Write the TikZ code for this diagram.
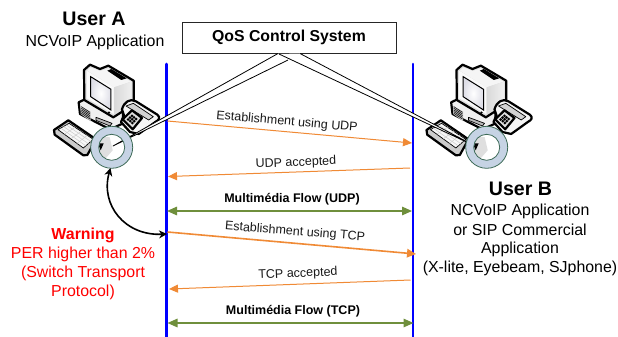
\documentclass[tikz,border=0pt]{standalone}
\usepackage{fontspec}
\setmainfont{Liberation Sans}
\usetikzlibrary{arrows.meta,calc}
\definecolor{orangeflow}{HTML}{F08A35}
\definecolor{greenflow}{HTML}{6F8F3C}
\definecolor{lifeblue}{HTML}{0000FF}
\definecolor{ringfill}{HTML}{C6D3E4}
\definecolor{ringedge}{HTML}{3E6B58}
\tikzset{
  lifeline/.style={draw=lifeblue,line width=2.6pt,line cap=round},
  msg/.style={draw=orangeflow,line width=1pt,-{Triangle[length=9pt,width=8pt]}},
  msgbold/.style={draw=orangeflow,line width=1.6pt,-{Triangle[length=9pt,width=8.5pt]}},
  flow/.style={draw=greenflow,line width=1.5pt,{Triangle[length=10pt,width=8.5pt]}-{Triangle[length=10pt,width=8.5pt]}},
  lbl/.style={font=\fontsize{12.5}{14}\selectfont,inner sep=0pt,text=black!90},
  flowlbl/.style={font=\bfseries\fontsize{12.5}{14}\selectfont,inner sep=0pt},
  body/.style={font=\fontsize{15.9}{19}\selectfont,inner sep=0pt,align=center},
  head/.style={font=\bfseries\fontsize{19.6}{22}\selectfont,inner sep=0pt},
  pcline/.style={draw=black,line width=2.2pt,line join=round},
  pcthin/.style={draw=black,line width=.7pt,line join=round},
  wedge/.style={draw=black,line width=.8pt,fill=white,line join=round},
  ringband/.style={fill=ringfill,draw=ringedge,line width=.8pt,even odd rule},
}
\newcommand{\pccomputer}[2]{%
\begin{scope}[shift={(#1,#2)},x=.3333pt,y=-.3333pt]
  % keyboard
  \path[pcline,fill=gray!40] (12,210) -- (55,181) -- (138,238) -- (112,285) -- (100,286) -- (14,224) -- cycle;
  \path[pcthin,fill=gray!6] (24,209) -- (57,190) -- (130,238) -- (100,264) -- cycle;
  \foreach \t in {.25,.5,.75}{
    \draw[gray!40,line width=.5pt] ($(24,209)!\t!(100,264)$) -- ($(57,190)!\t!(130,238)$);
    \draw[gray!40,line width=.5pt] ($(24,209)!\t!(57,190)$) -- ($(100,264)!\t!(130,238)$);
  }
  % base
  \path[pcline,fill=gray!12] (86,127) -- (115,113) -- (218,150) -- (220,190) -- (180,208) -- (90,162) -- cycle;
  \path[fill=gray!50] (92,138) -- (122,155) -- (122,184) -- (92,162) -- cycle;
  \foreach \s in {0,5,10,15,20}{\draw[black,line width=.5pt] (94,{140+\s}) -- (120,{157+\s});}
  \path[pcthin,fill=gray!55] (138,172) -- (186,190) -- (180,198) -- (138,181) -- cycle;
  % monitor
  \path[pcline,fill=gray!25] (102,30) -- (120,14) -- (150,27) -- (175,17) -- (251,62) -- (251,133) -- (190,172) -- (103,120) -- cycle;
  \path[fill=gray!8] (112,32) -- (122,22) -- (150,33) -- (176,25) -- (243,65) -- (192,82) -- cycle;
  \path[fill=black] (172,32) -- (184,27) -- (230,55) -- (214,60) -- cycle;
  \path[fill=gray!4] (110,32) -- (192,82) -- (192,163) -- (110,115) -- cycle;
  \path[left color=gray!30,right color=gray!12] (192,82) -- (245,65) -- (245,130) -- (192,163) -- cycle;
  \path[draw=black,line width=1pt,inner color=white,outer color=blue!16!gray!22] (122,50) -- (183,88) -- (183,150) -- (122,110) -- cycle;
  \fill[black] (177,158) circle (4);
  % phone
  \path[pcline,fill=gray!8] (216,148) .. controls (222,126) and (240,114) .. (258,124) -- (322,164) .. controls (332,172) and (328,180) .. (316,186) -- (266,222) -- (240,216) -- (213,186) -- (222,166) -- cycle;
  \path[pcthin,fill=gray!35] (228,138) -- (250,130) -- (310,170) -- (296,180) -- cycle;
  \path[pcline,fill=gray!25] (218,178) -- (246,151) -- (276,174) -- (248,208) -- cycle;
  \foreach \a in {.2,.5,.8}\foreach \b in {.2,.5,.8}{
    \fill[black] ($($(226,178)!\a!(246,161)$)!\b!($(248,197)!\a!(266,176)$)$) circle (4.5);
  }
\end{scope}}
\newcommand{\ringhole}[2]{%
  \fill[white] (#1,#2) circle (13);
  \begin{scope}
    \clip (#1,#2) circle (13);
    \fill[gray!25] ({#1-14},{#2-12}) -- ({#1-2},{#2-10}) -- ({#1+1},{#2+3}) -- ({#1-6},{#2+11}) -- ({#1-14},{#2+12}) -- cycle;
    \fill[black] ({#1-14},{#2-4}) -- ({#1-8},{#2-4}) -- ({#1-11},{#2+3}) -- cycle;
  \end{scope}}
\begin{document}
\begin{tikzpicture}[x=1pt,y=-1pt]
\useasboundingbox (0,0) rectangle (618,337);
\fill[white] (0,0) rectangle (618,337);

% named points
\coordinate (alTop) at (166.5,64); \coordinate (alBot) at (166.5,337);
\coordinate (blTop) at (413,64);   \coordinate (blBot) at (413,337);
\coordinate (ringA) at (111.7,147.3);
\coordinate (ringB) at (486.7,147.3);
\coordinate (tipA) at (113,146);
\coordinate (tipB) at (475,146);

\pccomputer{50}{60}
\pccomputer{422.5}{60}
\ringhole{111.7}{147.3}
\ringhole{486.7}{147.3}

% lifelines
\draw[lifeline] (alTop) -- (alBot);
\draw[lifeline] (blTop) -- (blBot);

% QoS box
\node[draw=black!85,line width=.9pt,fill=white,minimum width=214pt,minimum height=31pt,inner sep=0pt,
      font=\bfseries\fontsize{15.8}{18}\selectfont] (qos) at (289,37.5) {QoS Control System};

% links from the QoS box
\coordinate (qa1) at (278,53.5); \coordinate (qa2) at (288,60);
\coordinate (qb1) at (279,54);   \coordinate (qb2) at (300,53.5);
\path[wedge] (qa1) -- (tipA) -- (qa2);
\path[wedge] (qb1) -- (tipB) -- (qb2);

% rings over the links
\path[ringband] (ringA) circle (21) (ringA) circle (13);
\path[ringband] (ringB) circle (21) (ringB) circle (13);

% messages
\coordinate (m1a) at (167.5,121); \coordinate (m1b) at (412,143);
\coordinate (m2a) at (410,168);   \coordinate (m2b) at (168,176.5);
\coordinate (m3a) at (167,211);   \coordinate (m3b) at (412,211);
\coordinate (m4a) at (167.5,232); \coordinate (m4b) at (416,254);
\coordinate (m5a) at (410.5,280); \coordinate (m5b) at (169,289);
\coordinate (m6a) at (167.5,323); \coordinate (m6b) at (413.5,323);
\draw[msg] (m1a) -- (m1b);
\draw[msg] (m2a) -- (m2b);
\draw[flow] (m3a) -- (m3b);
\draw[msgbold] (m4a) -- (m4b);
\draw[msg] (m5a) -- (m5b);
\draw[flow] (m6a) -- (m6b);

\node[lbl,rotate=-5] (l1) at (287,122) {Establishment using UDP};
\node[lbl,rotate=2.5] (l2) at (296,163) {UDP accepted};
\node[flowlbl] (l3) at (292,199) {Multimédia Flow (UDP)};
\node[lbl,rotate=-4.5] (l4) at (295,232) {Establishment using TCP};
\node[lbl,rotate=2.5] (l5) at (298,274) {TCP accepted};
\node[flowlbl] (l6) at (293,311) {Multimédia Flow (TCP)};

% warning arc
\coordinate (wa) at (110.5,168); \coordinate (wb) at (167,234);
\draw[black,line width=1.6pt,{Stealth[length=8pt,width=8pt]}-{Stealth[length=8pt,width=8pt]}]
  (wa) .. controls (100,205) and (125,236) .. (wb);

% texts
\node[head] (ua) at (94,19) {User A};
\node[body] (ub) at (95,42) {NCVoIP Application};
\node[head] (ubh) at (520.5,189) {User B};
\node[body] (ubb) at (520,211) {NCVoIP Application};
\node[body] (ubc) at (520,230) {or SIP Commercial};
\node[body] (ubd) at (520,249) {Application};
\node[body] (ube) at (520,268) {(X-lite, Eyebeam, SJphone)};
\node[body,text=red,font=\bfseries\fontsize{15.9}{19}\selectfont] (w1) at (83,235) {Warning};
\node[body,text=red] (w2) at (83,254) {PER higher than 2\%};
\node[body,text=red] (w3) at (83,273) {(Switch Transport};
\node[body,text=red] (w4) at (83,292) {Protocol)};
\end{tikzpicture}
\end{document}
